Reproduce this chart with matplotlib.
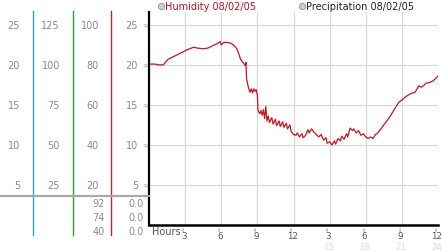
import matplotlib
matplotlib.use('Agg')
import matplotlib.pyplot as plt
import matplotlib.transforms as mtransforms
from matplotlib.lines import Line2D

# humidity trace
hours = [0.0, 0.5, 0.8, 1.2, 1.4, 1.6, 2.0, 2.4, 2.8, 3.2, 3.7, 4.0, 4.5, 4.9,
         5.3, 5.6, 5.9, 6.0, 6.2, 6.5, 6.8, 7.0, 7.3, 7.5, 7.6, 7.8, 8.0, 8.05,
         8.1, 8.25, 8.4, 8.5, 8.6, 8.7, 8.8, 8.9, 9.0, 9.05, 9.2, 9.3, 9.4, 9.5,
         9.6, 9.7, 9.8, 9.9, 10.0, 10.2, 10.3, 10.5, 10.6, 10.8, 10.9, 11.1,
         11.2, 11.4, 11.5, 11.7, 11.8, 12.0, 12.2, 12.3, 12.5, 12.7, 12.8, 13.0,
         13.2, 13.3, 13.5, 13.7, 13.9, 14.1, 14.3, 14.5, 14.7, 14.8, 15.0, 15.2,
         15.4, 15.5, 15.7, 15.9, 16.0, 16.2, 16.4, 16.5, 16.7, 16.9, 17.0, 17.2,
         17.4, 17.6, 17.8, 18.0, 18.2, 18.4, 18.6, 18.8, 19.0, 19.2, 19.4, 19.6,
         19.8, 20.0, 20.2, 20.4, 20.6, 20.8, 21.0, 21.3, 21.6, 21.9, 22.1, 22.3,
         22.4, 22.6, 22.8, 23.0, 23.3, 23.6, 23.8, 24.0]
humidity = [20.1, 20.1, 20.0, 20.0, 20.4, 20.7, 21.0, 21.3, 21.6, 21.9, 22.2,
            22.1, 22.0, 22.1, 22.4, 22.6, 22.9, 22.5, 22.8, 22.8, 22.7, 22.5,
            22.0, 21.2, 20.7, 20.3, 19.9, 20.3, 18.3, 17.2, 16.6, 17.0, 16.5,
            17.0, 16.7, 16.9, 16.2, 14.3, 13.9, 14.3, 13.7, 14.4, 13.3, 14.8,
            13.0, 13.6, 12.8, 13.4, 12.6, 13.2, 12.4, 13.0, 12.3, 12.9, 12.2,
            12.7, 12.0, 12.5, 11.7, 11.3, 11.2, 11.5, 11.0, 11.4, 10.9, 11.2,
            11.9, 11.5, 12.0, 11.6, 11.3, 11.0, 11.3, 10.6, 10.9, 10.2, 10.4,
            10.0, 10.5, 10.1, 10.8, 10.5, 11.1, 10.7, 11.4, 11.0, 12.1, 11.8,
            12.0, 11.5, 11.8, 11.2, 11.4, 11.0, 10.8, 11.0, 10.8, 11.3, 11.5,
            11.9, 12.3, 12.7, 13.1, 13.5, 14.0, 14.5, 15.0, 15.4, 15.6, 16.0,
            16.3, 16.5, 16.6, 17.1, 17.4, 17.2, 17.4, 17.7, 17.8, 18.0, 18.3, 18.6]

y_ticks = [25, 20, 15, 10, 5]
col1_labels = ['25', '20', '15', '10', '5']
col2_labels = ['125', '100', '75', '50', '25']
col3_labels = ['100', '80', '60', '40', '20']
col4_labels = ['25', '20', '15', '10', '5']
extra_col3 = ['92', '74', '40']
extra_col4 = ['0.0', '0.0', '0.0']
x_ticks = [3, 6, 9, 12, 15, 18, 21, 24]
x_labels = ['3', '6', '9', '12', '3', '6', '9', '12']
x_labels2 = ['15', '18', '21', '24']

W, H = 442, 253


def fx(px):
    return px / W


def fy(py):
    return 1 - py / H


fig = plt.figure(figsize=(W / 100, H / 100), dpi=100)
ax = fig.add_axes([fx(149), fy(226), fx(438) - fx(149), fy(13) - fy(226)])

ax.plot(hours, humidity, color='#d0101c', lw=0.9)
ax.set_xlim(0, 24)
ax.set_ylim(0, 26.6)
ax.set_xticks(x_ticks)
ax.set_yticks(y_ticks)
ax.tick_params(length=0, labelbottom=False, labelleft=False)
ax.grid(True, color='#d8d8d8', lw=0.8)
for s in ['top', 'right']:
    ax.spines[s].set_visible(False)
ax.spines['left'].set_linewidth(1.6)
ax.spines['bottom'].set_linewidth(1.8)

grey = '#8a8a8a'
fs = 7
trans = mtransforms.blended_transform_factory(fig.transFigure, ax.transData)
for v, a, b, c, d in zip(y_ticks, col1_labels, col2_labels, col3_labels,
                         col4_labels):
    ax.text(fx(20), v, a, transform=trans, ha='right', va='center',
            color=grey, fontsize=fs)
    ax.text(fx(60), v, b, transform=trans, ha='right', va='center',
            color=grey, fontsize=fs)
    ax.text(fx(99), v, c, transform=trans, ha='right', va='center',
            color=grey, fontsize=fs)
    ax.text(fx(138), v, d, transform=trans, ha='right', va='center',
            color=grey, fontsize=fs)
    ax.text(fx(145.5), v, '\u2248', transform=trans, ha='center', va='center',
            color='#999999', fontsize=5)

# scale bars on the left
for xp, col in [(33, '#2aa8c8'), (72.5, '#2ca02c'), (111, '#b8262a')]:
    fig.add_artist(Line2D([fx(xp), fx(xp)], [fy(12), fy(236)], color=col,
                          lw=1.0))
fig.add_artist(Line2D([0, fx(149)], [fy(197), fy(197)], color='#a8a8a8',
                      lw=1.6))

for yp, a, b in zip([204, 218, 232], extra_col3, extra_col4):
    fig.text(fx(105), fy(yp), a, ha='right', va='center', color=grey,
             fontsize=fs)
    fig.text(fx(144), fy(yp), b, ha='right', va='center', color=grey,
             fontsize=fs)

# bottom hour labels
xtrans = mtransforms.blended_transform_factory(ax.transData, fig.transFigure)
fig.text(fx(152), fy(232), 'Hours', ha='left', va='center', color='#555555',
         fontsize=fs)
for h, lab in zip(x_ticks, x_labels):
    ax.text(h - 0.12, fy(229.5), '\u2248', transform=xtrans, ha='center',
            va='center', color='#999999', fontsize=4.5, rotation=90)
    ax.text(h - 0.12, fy(237), lab, transform=xtrans, ha='center',
            va='center', color='#555555', fontsize=6.3)
for h, lab in zip(x_ticks[4:], x_labels2):
    ax.text(h - 0.12, fy(247.5), lab, transform=xtrans, ha='center',
            va='center', color='#dddddd', fontsize=6.3)

# legend
fig.add_artist(Line2D([fx(160.5)], [fy(7)], marker='o', ms=4.5,
                      mfc='#cfcfcf', mec='#a0a0a0', mew=0.8, ls='none'))
fig.text(fx(165), fy(7), 'Humidity 08/02/05', ha='left', va='center',
         color='#c0101c', fontsize=fs)
fig.add_artist(Line2D([fx(301.5)], [fy(7)], marker='o', ms=4.5,
                      mfc='#cfcfcf', mec='#a0a0a0', mew=0.8, ls='none'))
fig.text(fx(306), fy(7), 'Precipitation 08/02/05', ha='left', va='center',
         color='#222222', fontsize=fs)

fig.savefig('out.png', dpi=100)
